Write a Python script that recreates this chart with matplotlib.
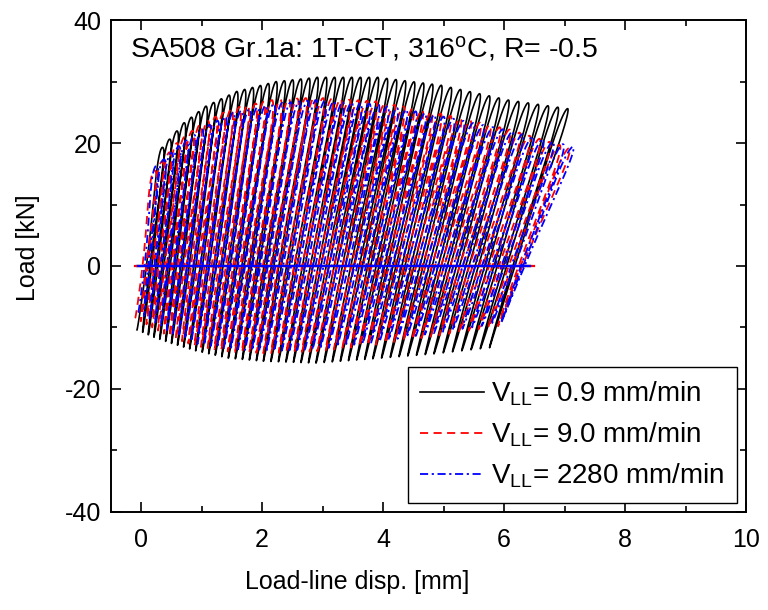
import numpy as np
import matplotlib
matplotlib.use('Agg')
from matplotlib import pyplot as plt

plt.rcParams['font.family'] = ['Liberation Sans', 'DejaVu Sans']
plt.rcParams['mathtext.fontset'] = 'custom'
plt.rcParams['mathtext.rm'] = 'Liberation Sans'
plt.rcParams['mathtext.it'] = 'Liberation Sans:italic'
plt.rcParams['axes.unicode_minus'] = False

# values
# cycle numbers at which peaks / valleys were read
cycle_keys = [0, 3, 6, 10, 15, 20, 27, 34, 41, 47]

# V_LL = 0.9 mm/min
slow_peak_disp = [0.35, 0.71, 1.07, 1.58, 2.23, 2.91, 3.91, 4.96, 6.07, 7.05]
slow_peak_load = [19.3, 23.3, 26.0, 28.4, 30.0, 30.7, 30.7, 29.4, 27.0, 25.6]
slow_valley_disp = [-0.07, 0.21, 0.50, 0.90, 1.44, 2.02, 2.89, 3.83, 4.84, 5.76]
slow_valley_load = [-10.4, -11.6, -12.6, -13.8, -15.0, -15.5, -15.8, -15.1, -14.3, -13.3]

# V_LL = 9.0 mm/min
mid_peak_disp = [0.22, 0.59, 0.97, 1.49, 2.16, 2.86, 3.88, 4.95, 6.09, 7.08]
mid_peak_load = [15.5, 20.0, 23.0, 25.6, 27.0, 27.4, 26.8, 24.8, 22.2, 19.2]
mid_valley_disp = [-0.10, 0.18, 0.47, 0.88, 1.43, 2.02, 2.91, 3.88, 4.93, 5.90]
mid_valley_load = [-8.5, -10.0, -11.5, -13.0, -13.9, -14.2, -13.9, -12.8, -11.3, -9.8]

# V_LL = 2280 mm/min
fast_peak_disp = [0.25, 0.62, 1.00, 1.52, 2.19, 2.89, 3.92, 5.00, 6.14, 7.14]
fast_peak_load = [16.3, 19.5, 22.3, 25.0, 26.4, 27.0, 26.3, 24.3, 21.9, 19.4]
fast_valley_disp = [-0.05, 0.23, 0.52, 0.93, 1.48, 2.07, 2.96, 3.94, 4.99, 5.95]
fast_valley_load = [-7.6, -9.3, -11.0, -12.7, -13.5, -13.9, -13.5, -12.3, -10.7, -9.3]

# load where the last unloading stops, and end of the zero-load trace
end_load = [16.0, -7.0, -9.0]
zero_line_end = [6.42, 6.50, 6.42]
# half width of the rounded loop tops [mm]
loop_round = [0.10, 0.11, 0.11]

labels = [r'V$_{\rm LL}$= 0.9 mm/min', r'V$_{\rm LL}$= 9.0 mm/min',
          r'V$_{\rm LL}$= 2280 mm/min']
colors = ['black', 'red', 'blue']
styles = ['-', (0, (4.5, 3)), (0, (4.5, 2, 1.2, 2))]
widths = [1.2, 1.3, 1.3]


def hysteresis(peak_disp, peak_load, valley_disp, valley_load, stop_load, rnd,
               per_cycle=200):
    keys = np.array(cycle_keys, float)
    c = np.arange(-0.5, keys[-1] + 0.5, 1.0 / per_cycle)
    top_d = np.interp(c, keys, peak_disp)
    top_p = np.interp(c, keys, peak_load)
    bot_d = np.interp(c, keys - 0.5, valley_disp)
    bot_p = np.interp(c, keys - 0.5, valley_load)

    th = 2 * np.pi * c
    load = (top_p + bot_p) / 2 + (top_p - bot_p) / 2 * np.cos(th)
    disp = (top_d + bot_d) / 2 + (top_d - bot_d) / 2 * np.cos(th)
    # loading branch left, unloading branch right, meeting in a round top
    disp += rnd * np.sin(th) * ((1 + np.cos(th)) / 2) ** 3

    # cut the last unloading where it reaches stop_load
    last = np.where(c >= keys[-1])[0]
    after = last[load[last] <= stop_load]
    cut = after[0] if len(after) else len(c)
    return disp[:cut], load[:cut]


fig, ax = plt.subplots(figsize=(7.68, 6.10), dpi=100)
fig.subplots_adjust(left=0.1445, right=0.9714, top=0.967, bottom=0.161)

series = [
    (slow_peak_disp, slow_peak_load, slow_valley_disp, slow_valley_load),
    (mid_peak_disp, mid_peak_load, mid_valley_disp, mid_valley_load),
    (fast_peak_disp, fast_peak_load, fast_valley_disp, fast_valley_load),
]
for i, s in enumerate(series):
    x, y = hysteresis(*s, end_load[i], loop_round[i])
    ax.plot(x, y, color=colors[i], linestyle=styles[i], lw=widths[i], label=labels[i])
    ax.plot([s[2][0], zero_line_end[i]], [0, 0], color=colors[i], lw=1.6)

ax.set_xlim(-0.5, 10)
ax.set_ylim(-40, 40)
ax.set_xticks(np.arange(0, 11, 2))
ax.set_xticks(np.arange(1, 10, 2), minor=True)
ax.set_yticks(np.arange(-40, 41, 20))
ax.set_yticks(np.arange(-30, 31, 20), minor=True)
ax.tick_params(which='both', direction='in', top=True, right=True, labelsize=18, width=1.2)
ax.tick_params(which='major', length=7)
ax.tick_params(which='minor', length=4)
ax.tick_params(axis='x', pad=12)
ax.tick_params(axis='y', pad=7)
for sp in ax.spines.values():
    sp.set_linewidth(1.4)

ax.set_xlabel('Load-line disp. [mm]', fontsize=18)
ax.set_ylabel('Load [kN]', fontsize=18)
ax.xaxis.set_label_coords(0.388, -0.118)
ax.yaxis.set_label_coords(-0.112, 0.537)

ax.text(0.03, 0.925, r'SA508 Gr.1a: 1T-CT, 316$^{\rm o}$C, R= -0.5',
        transform=ax.transAxes, fontsize=20.5, va='baseline', ha='left')

leg = ax.legend(loc='lower right', bbox_to_anchor=(0.986, 0.018), borderaxespad=0,
                fontsize=20, handlelength=2.3, handletextpad=0.25, labelspacing=0.46,
                borderpad=0.45, fancybox=False, edgecolor='black', framealpha=1)
leg.get_frame().set_linewidth(1.0)

fig.savefig('out.png', dpi=100)
